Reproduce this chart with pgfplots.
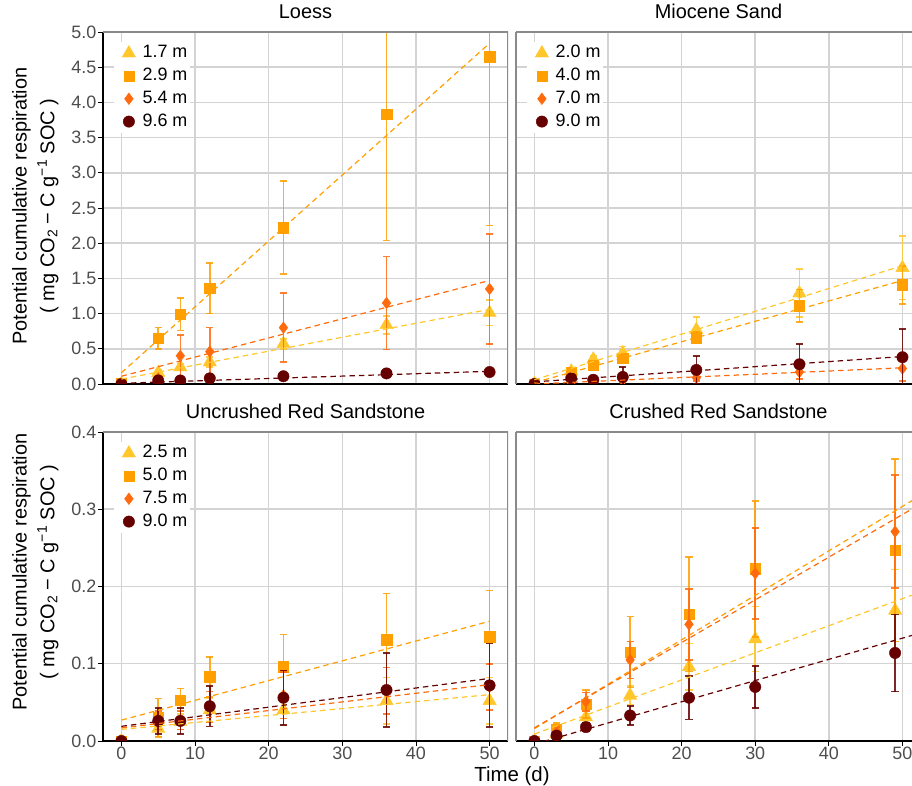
\documentclass[border=0pt]{standalone}
\usepackage{fontspec}
\setmainfont{Liberation Sans}
\usepackage{pgfplots}
\pgfplotsset{compat=1.18}
\definecolor{cY}{HTML}{FFC72C}
\definecolor{cO}{HTML}{FF9F00}
\definecolor{cR}{HTML}{FF6A0D}
\definecolor{cB}{HTML}{660000}
\definecolor{tickgray}{HTML}{4D4D4D}
\definecolor{gridgray}{HTML}{D3D3D3}
\definecolor{bordergray}{HTML}{8A8A8A}
\pgfplotsset{
  panel/.style={
    scale only axis, anchor=south west,
    xmin=-2.5, ymin=0,
    axis x line*=bottom, axis y line*=left,
    axis line style={black, line width=1.1bp},
    xtick={0,10,20,30,40,50},
    grid=major, grid style={color=gridgray, line width=1.5bp},
    tick align=outside, major tick length=5bp,
    tick style={black, line width=0.9bp},
    tick label style={font=\fontsize{18}{18}\selectfont, text=tickgray},
    /pgf/number format/assume math mode=true,
    yticklabel style={/pgf/number format/fixed, /pgf/number format/fixed zerofill, /pgf/number format/precision=1, inner sep=1.5bp},
    xticklabel style={inner sep=1bp},
    title style={font=\fontsize{20}{20}\selectfont, anchor=base, at={(axis description cs:0.5,1)}, yshift=8bp},
    clip marker paths=true,
    legend cell align=left,
    legend style={at={(axis description cs:0,1)}, anchor=north west, xshift=11bp, yshift=-10bp,
      draw=none, fill=white, inner xsep=2bp, inner ysep=2bp,
      font=\fontsize{18}{18}\selectfont, row sep=4.8bp,
      nodes={inner sep=1bp, text height=12.5bp, text depth=3.5bp}},
    legend image code/.code={\path (-12.5bp,0bp) (12.5bp,0bp); \draw[##1] plot coordinates {(0bp,0bp)};},
  },
  leftpanel/.style={xmax=52.5, width=405bp},
  rightpanel/.style={xmax=51.3, width=396bp, y axis line style={bordergray}, yticklabels={}, ytick style={draw=none}, title style={xshift=4.5bp}},
  toprow/.style={height=352bp, ymax=5, ytick={0,0.5,1,1.5,2,2.5,3,3.5,4,4.5,5}, xticklabels={}, xtick style={draw=none}},
  botrow/.style={height=309bp, ymax=0.4, ytick={0,0.1,0.2,0.3,0.4}},
  ebars/.style={
    /pgfplots/error bars/y dir=both, /pgfplots/error bars/y explicit,
    /pgfplots/error bars/error bar style={line width=1.6bp, opacity=0.85, solid},
    /pgfplots/error bars/error mark options={line width=1.6bp, mark size=3.6bp, opacity=0.85, rotate=90}},
  sY/.style={only marks, color=cY, mark=triangle*, mark size=7.7bp, mark options={fill=cY, draw=cY}, ebars},
  sO/.style={only marks, color=cO, mark=square*, mark size=5.2bp, mark options={fill=cO, draw=cO}, ebars},
  sR/.style={only marks, color=cR, mark=diamond*, mark size=5.8bp, mark options={fill=cR, draw=cR}, ebars},
  sB/.style={only marks, color=cB, mark=*, mark size=5.7bp, mark options={fill=cB, draw=cB}, ebars},
  fit/.style={forget plot, no markers, line width=1.2bp, dash pattern=on 5.5bp off 4bp},
}
\begin{document}
\begin{tikzpicture}[x=1bp,y=1bp]
\useasboundingbox (0,0) rectangle (912,786);

% ---------------- Loess ----------------
\begin{axis}[panel, leftpanel, toprow, at={(103bp,402bp)}, title={Loess}]
\addplot[sY] table[x=x,y=y,y error=e,row sep=\\] {x y e\\ 0 0 0\\ 5 0.16 0.04\\ 8 0.24 0.05\\ 12 0.31 0.07\\ 22 0.57 0.07\\ 36 0.84 0.13\\ 50 1.01 0.18\\};
\addplot[sO] table[x=x,y=y,y error=e,row sep=\\] {x y e\\ 0 0.01 0\\ 5 0.65 0.15\\ 8 0.99 0.23\\ 12 1.36 0.36\\ 22 2.22 0.66\\ 36 3.83 1.79\\ 50 4.65 2.40\\};
\addplot[sR] table[x=x,y=y,y error=e,row sep=\\] {x y e\\ 0 0 0\\ 5 0.08 0.03\\ 8 0.40 0.30\\ 12 0.46 0.34\\ 22 0.80 0.49\\ 36 1.15 0.66\\ 50 1.35 0.78\\};
\addplot[sB] table[x=x,y=y,y error=e,row sep=\\] {x y e\\ 0 0 0\\ 5 0.05 0.01\\ 8 0.05 0.01\\ 12 0.08 0.02\\ 22 0.11 0.02\\ 36 0.15 0.02\\ 50 0.17 0.02\\};
\addplot[fit, cY] coordinates {(0,0.07) (50,1.06)};
\addplot[fit, cO] coordinates {(0,0.16) (50,4.84)};
\addplot[fit, cR] coordinates {(0,0.11) (50,1.47)};
\addplot[fit, cB] coordinates {(0,0.01) (50,0.18)};
\draw[bordergray, line width=1.2bp] (rel axis cs:0,1) -- (rel axis cs:1,1) -- (rel axis cs:1,0);
\legend{1.7 m, 2.9 m, 5.4 m, 9.6 m}
\end{axis}

% ---------------- Miocene Sand ----------------
\begin{axis}[panel, rightpanel, toprow, at={(516bp,402bp)}, title={Miocene Sand}]
\addplot[sY] table[x=x,y=y,y error=e,row sep=\\] {x y e\\ 0 0 0\\ 5 0.18 0.04\\ 8 0.35 0.05\\ 12 0.44 0.09\\ 22 0.77 0.18\\ 36 1.29 0.34\\ 50 1.65 0.45\\};
\addplot[sO] table[x=x,y=y,y error=e,row sep=\\] {x y e\\ 0 0 0\\ 5 0.16 0.03\\ 8 0.27 0.05\\ 12 0.37 0.06\\ 22 0.66 0.08\\ 36 1.11 0.23\\ 50 1.41 0.27\\};
\addplot[sR] table[x=x,y=y,y error=e,row sep=\\] {x y e\\ 0 0 0\\ 5 0.02 0.01\\ 8 0.04 0.02\\ 12 0.05 0.03\\ 22 0.09 0.05\\ 36 0.17 0.10\\ 50 0.22 0.18\\};
\addplot[sB] table[x=x,y=y,y error=e,row sep=\\] {x y e\\ 0 0 0\\ 5 0.08 0.04\\ 8 0.06 0.05\\ 12 0.10 0.14\\ 22 0.20 0.20\\ 36 0.28 0.29\\ 50 0.38 0.40\\};
\addplot[fit, cY] coordinates {(0,0.06) (50,1.68)};
\addplot[fit, cO] coordinates {(0,0.02) (50,1.47)};
\addplot[fit, cR] coordinates {(0,0.0) (50,0.23)};
\addplot[fit, cB] coordinates {(0,0.03) (50,0.39)};
\draw[bordergray, line width=1.2bp] (rel axis cs:0,1) -- (rel axis cs:1,1);
\legend{2.0 m, 4.0 m, 7.0 m, 9.0 m}
\end{axis}

% ---------------- Uncrushed Red Sandstone ----------------
\begin{axis}[panel, leftpanel, botrow, at={(103bp,45bp)}, title={Uncrushed Red Sandstone}]
\addplot[sY] table[x=x,y=y,y error=e,row sep=\\] {x y e\\ 0 0 0\\ 5 0.016 0.010\\ 8 0.025 0.010\\ 12 0.040 0.015\\ 22 0.040 0.020\\ 36 0.052 0.030\\ 50 0.052 0.030\\};
\addplot[sO] table[x=x,y=y,y error=e,row sep=\\] {x y e\\ 0 0 0\\ 5 0.030 0.025\\ 8 0.053 0.015\\ 12 0.083 0.026\\ 22 0.096 0.042\\ 36 0.131 0.060\\ 50 0.135 0.060\\};
\addplot[sR] table[x=x,y=y,y error=e,row sep=\\] {x y e\\ 0 0 0\\ 5 0.027 0.012\\ 8 0.027 0.012\\ 12 0.044 0.020\\ 22 0.059 0.030\\ 36 0.065 0.030\\ 50 0.070 0.030\\};
\addplot[sB] table[x=x,y=y,y error=e,row sep=\\] {x y e\\ 0 0 0\\ 5 0.026 0.017\\ 8 0.026 0.017\\ 12 0.045 0.026\\ 22 0.056 0.035\\ 36 0.066 0.048\\ 50 0.072 0.054\\};
\addplot[fit, cY] coordinates {(0,0.015) (50,0.060)};
\addplot[fit, cO] coordinates {(0,0.027) (50,0.155)};
\addplot[fit, cR] coordinates {(0,0.017) (50,0.073)};
\addplot[fit, cB] coordinates {(0,0.019) (50,0.081)};
\draw[bordergray, line width=1.2bp] (rel axis cs:0,1) -- (rel axis cs:1,1) -- (rel axis cs:1,0);
\legend{2.5 m, 5.0 m, 7.5 m, 9.0 m}
\end{axis}

% ---------------- Crushed Red Sandstone ----------------
\begin{axis}[panel, rightpanel, botrow, at={(516bp,45bp)}, title={Crushed Red Sandstone}]
\addplot[sY] table[x=x,y=y,y error=e,row sep=\\] {x y e\\ 0 0 0\\ 3 0.009 0.004\\ 7 0.031 0.008\\ 13 0.059 0.012\\ 21 0.096 0.030\\ 30 0.132 0.042\\ 49 0.169 0.053\\};
\addplot[sO] table[x=x,y=y,y error=e,row sep=\\] {x y e\\ 0 0 0\\ 3 0.015 0.008\\ 7 0.048 0.018\\ 13 0.115 0.046\\ 21 0.164 0.074\\ 30 0.223 0.088\\ 49 0.247 0.118\\};
\addplot[sR] table[x=x,y=y,y error=e,row sep=\\] {x y e\\ 0 0 0\\ 3 0.012 0.006\\ 7 0.051 0.012\\ 13 0.105 0.024\\ 21 0.151 0.046\\ 30 0.217 0.059\\ 49 0.271 0.073\\};
\addplot[sB] table[x=x,y=y,y error=e,row sep=\\] {x y e\\ 0 0 0\\ 3 0.007 0.003\\ 7 0.018 0.005\\ 13 0.033 0.012\\ 21 0.056 0.028\\ 30 0.070 0.027\\ 49 0.114 0.050\\};
\addplot[fit, cY] coordinates {(0,0.009) (52.5,0.193)};
\addplot[fit, cO] coordinates {(0,0.016) (52.5,0.318)};
\addplot[fit, cR] coordinates {(0,0.017) (52.5,0.307)};
\addplot[fit, cB] coordinates {(0,-0.0041) (52.5,0.140)};
\draw[bordergray, line width=1.2bp] (rel axis cs:0,1) -- (rel axis cs:1,1);
\end{axis}

% ---------------- shared labels ----------------
\node[rotate=90, anchor=base, font=\fontsize{20}{20}\selectfont] at (26.7,580) {Potential cumulative respiration};
\node[rotate=90, anchor=base, font=\fontsize{20}{20}\selectfont] at (54.3,580) {( mg CO\textsubscript{2} − C g\textsuperscript{−1} SOC )};
\node[rotate=90, anchor=base, font=\fontsize{20}{20}\selectfont] at (26.7,214) {Potential cumulative respiration};
\node[rotate=90, anchor=base, font=\fontsize{20}{20}\selectfont] at (54.3,214) {( mg CO\textsubscript{2} − C g\textsuperscript{−1} SOC )};
\node[anchor=base, font=\fontsize{20.5}{20}\selectfont] at (512,4) {Time (d)};
\end{tikzpicture}
\end{document}
